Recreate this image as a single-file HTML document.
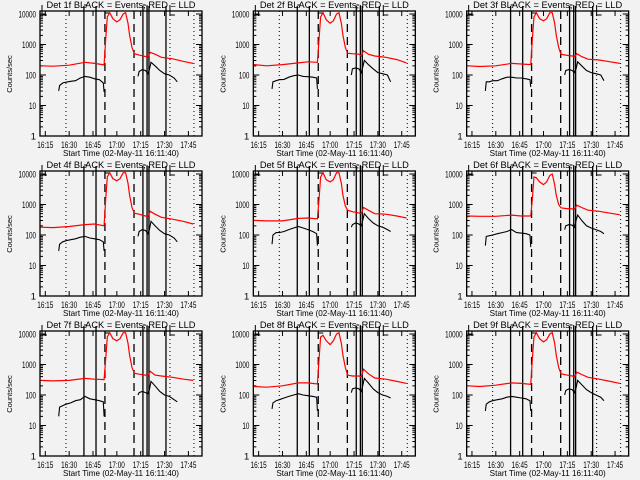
<!DOCTYPE html>
<html><head><meta charset="utf-8"><style>
html,body{margin:0;padding:0;background:#f2f2f2;}
svg{display:block;font-family:"Liberation Sans",sans-serif;}
</style></head><body>
<svg id="chart" width="640" height="480" viewBox="0 0 640 480" xmlns="http://www.w3.org/2000/svg">
<rect x="0" y="0" width="640" height="480" fill="#f2f2f2"/>
</svg>
<script>
// ---- data ----
const panelLabels = ["1f","2f","3f","4f","5f","6f","7f","8f","9f"];
const xTickLabels = ["16:15","16:30","16:45","17:00","17:15","17:30","17:45"];
const xTickMinutes = [15,30,45,60,75,90,105];
const yTickLabels = ["1","10","100","1000","10000"];
const yTickValues = [1,10,100,1000,10000];
const dottedLineMinutes = [28.0,93.4,108.5];
const solidLineMinutes = [39.3,46.9,76.4,79.0,80.2,90.9];
const dashedLineMinutes = [52.5,70.8];
const redTimes = [12,20,30,40,46,52,53,54,55.5,57.5,60,62,64,65.5,67,68,69.5,71,74,78,79.5,81,84,88,95,102,108];
const red1 = [200,195,210,260,240,215,1500,8000,11000,7000,5500,6500,10000,11000,5000,2000,800,500,450,400,380,550,480,380,340,280,240];
const red2 = [220,200,220,250,270,260,1500,8000,11000,6500,5000,6000,10000,11000,5000,2000,800,520,500,480,420,620,480,420,380,320,250];
const red3 = [200,190,200,240,230,220,1500,8000,11000,7000,6000,7000,11000,11000,5000,2000,800,480,450,420,400,500,400,330,310,270,240];
const red4 = [180,175,190,220,230,200,1500,8000,11000,7000,6000,7000,11000,11000,5000,2000,800,520,480,420,400,600,480,380,330,280,230];
const red5 = [300,290,290,350,360,340,1500,8000,11000,6500,5500,6500,11000,11000,5000,2000,900,650,580,530,500,800,650,500,480,420,360];
const red6 = [420,410,410,450,420,420,1500,8000,7500,5500,4500,5500,9000,10000,4500,2000,1000,780,740,720,700,950,800,650,600,520,460];
const red7 = [300,290,300,350,330,320,1500,8000,11000,7000,6000,7000,11000,11000,5000,2000,800,520,480,450,420,600,450,420,380,330,300];
const red8 = [190,180,200,250,250,230,1500,8000,9000,6000,4500,6000,10000,11000,5000,2000,800,450,420,420,400,700,500,360,330,280,240];
const red9 = [200,190,210,250,240,225,1500,8000,11000,7000,5500,6500,10000,11000,5000,2000,800,500,460,420,390,560,470,380,330,280,240];
const blackTimesA = [23.4,24,26,28,31,34,37,40,43,46,49,51.5,52];
const blackTimesB = [73.3,74,76,78,79.5,80.5,81.5,84,87,90,93,96,98];
const blackA1 = [30,45,55,58,62,65,80,90,85,75,70,55,28];
const blackB1 = [90,130,150,140,110,150,260,200,140,110,100,80,60];
const blackA2 = [35,60,65,70,72,85,95,100,90,88,85,80,35];
const blackB2 = [100,160,170,160,120,180,300,220,160,120,110,100,60];
const blackA3 = [30,60,60,65,65,75,85,85,80,80,75,70,40];
const blackB3 = [100,140,150,140,120,160,270,200,140,120,110,100,65];
const blackA4 = [30,50,60,65,70,75,85,90,80,75,70,60,30];
const blackB4 = [90,130,150,140,110,150,280,200,140,110,100,80,60];
const blackA5 = [50,100,120,120,130,150,170,190,170,150,130,110,45];
const blackB5 = [180,220,250,230,200,300,500,350,250,200,180,150,130];
const blackA6 = [45,90,95,100,110,120,130,150,120,115,110,100,40];
const blackB6 = [150,200,220,210,180,300,450,300,200,170,150,130,110];
const blackA7 = [20,40,45,50,55,65,70,90,75,70,65,60,20];
const blackB7 = [100,120,130,120,110,150,280,200,130,100,90,70,60];
const blackA8 = [35,55,65,70,80,90,100,110,100,95,90,85,30];
const blackB8 = [120,160,170,160,130,200,350,250,160,120,100,90,80];
const blackA9 = [30,50,60,65,70,75,85,90,85,80,75,65,30];
const blackB9 = [100,140,160,150,120,170,300,220,150,120,100,85,65];
const redSeries = [red1,red2,red3,red4,red5,red6,red7,red8,red9];
const blackASeries = [blackA1,blackA2,blackA3,blackA4,blackA5,blackA6,blackA7,blackA8,blackA9];
const blackBSeries = [blackB1,blackB2,blackB3,blackB4,blackB5,blackB6,blackB7,blackB8,blackB9];

// ---- drawing ----
const NS = "http://www.w3.org/2000/svg";
const svg = document.getElementById("chart");
const BX0 = 40, BX1 = 202, BY0 = 11, BY1 = 136;
const T0 = 11.667, PXPM = 1.59, DEC = 30.5;
function mk(tag, attrs, parent) {
  const e = document.createElementNS(NS, tag);
  for (const k in attrs) e.setAttribute(k, attrs[k]);
  parent.appendChild(e);
  return e;
}
function pts(ts, vs, xs, ys) {
  return ts.map((t, i) => xs(t).toFixed(1) + "," + ys(vs[i]).toFixed(1)).join(" ");
}
for (let p = 0; p < 9; p++) {
  const ox = (p % 3) * 213.33, oy = Math.floor(p / 3) * 160;
  const g = mk("g", {transform: "translate(" + ox.toFixed(2) + "," + oy + ")"}, svg);
  
  
  const xs = t => BX0 + (t - T0) * PXPM;
  const ys = v => BY1 - Math.log10(Math.max(Math.min(v, 12000), 1)) * DEC;
  const clip = "clip" + p;
  const cp = mk("clipPath", {id: clip}, g);
  mk("rect", {x: BX0, y: BY0, width: BX1 - BX0, height: BY1 - BY0}, cp);
  // y ticks
  yTickValues.forEach((v, i) => {
    const y = ys(v);
    const tk = mk("path", {d: "M" + BX0 + "," + y + "h6M" + BX1 + "," + y + "h-6", stroke: "#000", "stroke-width": 1}, g);
    
    
    const lb = mk("text", {x: BX0 - 4, y: y + 3.5, "font-size": 9.5, "text-anchor": "end"}, g);
    if (yTickLabels[i].length > 1) { lb.setAttribute("textLength", (yTickLabels[i].length * 3.5).toFixed(1)); lb.setAttribute("lengthAdjust", "spacingAndGlyphs"); }
    lb.textContent = yTickLabels[i];
    
    
    if (i < yTickValues.length - 1) {
      for (let m = 2; m <= 9; m++) {
        const my = ys(v * m);
        const mt = mk("path", {d: "M" + BX0 + "," + my + "h3M" + BX1 + "," + my + "h-3", stroke: "#000", "stroke-width": 1}, g);
        
        
      }
    }
  });
  // x ticks
  xTickMinutes.forEach((m, i) => {
    const x = xs(m);
    const tk = mk("path", {d: "M" + x + "," + BY1 + "v-5M" + x + "," + BY0 + "v5", stroke: "#000", "stroke-width": 1}, g);
    
    
    const lb = mk("text", {x: x, y: 148, "font-size": 9.5, "text-anchor": "middle", textLength: 16, lengthAdjust: "spacingAndGlyphs"}, g);
    lb.textContent = xTickLabels[i];
    
    
  });
  // vertical marker lines
  dottedLineMinutes.forEach(m => {
    const l = mk("line", {x1: xs(m), x2: xs(m), y1: BY0, y2: BY1, stroke: "#000", "stroke-width": 1, "stroke-dasharray": "1,3"}, g);
    
    
  });
  solidLineMinutes.forEach(m => {
    const l = mk("line", {x1: xs(m), x2: xs(m), y1: 6, y2: BY1, stroke: "#000", "stroke-width": 1.3}, g);
    
    
  });
  dashedLineMinutes.forEach(m => {
    const l = mk("line", {x1: xs(m), x2: xs(m), y1: BY0, y2: BY1, stroke: "#000", "stroke-width": 1.3, "stroke-dasharray": "8,5"}, g);
    
    
  });
  // top bracket markers
  const br = mk("path", {d: "M42,5v10h5M" + xs(39.3) + ",5h3M" + xs(52.5) + ",13h5M" + xs(76.4) + ",5h3M" + xs(79) + ",5v8M" + xs(93.4) + ",5v10h5", stroke: "#000", fill: "none", "stroke-width": 1}, g);
  
  
  // series
  const red = mk("polyline", {points: pts(redTimes, redSeries[p], xs, ys), fill: "none", stroke: "#ff0000", "stroke-width": 1.2, "clip-path": "url(#" + clip + ")"}, g);
  
  
  const ba = mk("polyline", {points: pts(blackTimesA, blackASeries[p], xs, ys), fill: "none", stroke: "#000", "stroke-width": 1.1}, g);
  
  
  const bb = mk("polyline", {points: pts(blackTimesB, blackBSeries[p], xs, ys), fill: "none", stroke: "#000", "stroke-width": 1.1}, g);
  
  
  // box
  const box = mk("rect", {x: BX0, y: BY0, width: BX1 - BX0, height: BY1 - BY0, fill: "none", stroke: "#000", "stroke-width": 1.3}, g);
  
  
  // texts
  const tt = mk("text", {x: 121, y: 8, "font-size": 9, "text-anchor": "middle", textLength: 149, lengthAdjust: "spacingAndGlyphs"}, g);
  tt.textContent = "Det " + panelLabels[p] + " BLACK = Events, RED = LLD";
  
  
  const xt = mk("text", {x: 121, y: 156, "font-size": 8.5, "text-anchor": "middle", textLength: 116, lengthAdjust: "spacingAndGlyphs"}, g);
  xt.textContent = "Start Time (02-May-11 16:11:40)";
  
  
  const yt = mk("text", {x: 0, y: 0, "font-size": 7.5, "text-anchor": "middle", transform: "translate(12,74) rotate(-90)"}, g);
  yt.textContent = "Counts/sec";
  
  
}
</script>
</body></html>
